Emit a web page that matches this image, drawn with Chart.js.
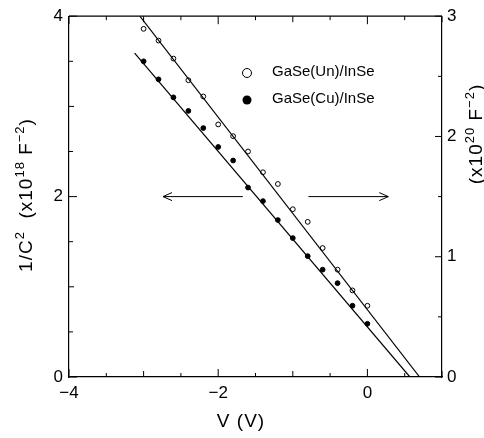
<!DOCTYPE html>
<html>
<head>
<meta charset="utf-8">
<script src="https://cdn.jsdelivr.net/npm/chart.js@4.4.1/dist/chart.umd.min.js"></script>
<style>
  html, body { margin: 0; padding: 0; background: #fff; }
  #grafico { display: block; }
</style>
</head>
<body>
<canvas id="grafico" width="484" height="438"></canvas>
<script>
// Datos
var voltages = [-3.0, -2.8, -2.6, -2.4, -2.2, -2.0, -1.8, -1.6, -1.4, -1.2, -1.0, -0.8, -0.6, -0.4, -0.2, 0.0];
var unValues = [3.86, 3.73, 3.53, 3.29, 3.11, 2.80, 2.67, 2.50, 2.27, 2.14, 1.86, 1.72, 1.43, 1.19, 0.96, 0.79];
var cuValues = [3.50, 3.30, 3.10, 2.95, 2.76, 2.55, 2.40, 2.10, 1.95, 1.74, 1.54, 1.34, 1.19, 1.04, 0.79, 0.59];

// Rectas de ajuste (extremos)
var unFitV = [-3.05, 0.70];
var unFitY = [4.0, 0.0];
var cuFitV = [-3.12, 0.57];
var cuFitY = [3.59, 0.0];

// Flechas (izquierda -> eje izquierdo, derecha -> eje derecho)
var leftArrowV = [-1.67, -2.74];
var rightArrowV = [-0.79, 0.28];
var arrowY = 2.0;

var xTickValues = [-4, -2, 0];
var legendLabels = ['GaSe(Un)/InSe', 'GaSe(Cu)/InSe'];

var FONT = '"Liberation Sans", Arial, Helvetica, sans-serif';

function toPoints(xs, ys) {
    return xs.map(function(x, i) { return { x: x, y: ys[i] }; });
}

function minusSign(v) {
    return String(v).replace('-', '\u2212');
}

// Texto con superíndices, centrado en (x, y) y rotado
function drawRich(ctx, parts, x, y, rot) {
    var main = '19px ' + FONT;
    var sup = '13px ' + FONT;
    ctx.save();
    ctx.letterSpacing = '1px';
    var total = 0;
    parts.forEach(function(p) {
        ctx.font = p.sup ? sup : main;
        p.w = ctx.measureText(p.t).width;
        total += p.w;
    });
    ctx.translate(x, y);
    ctx.rotate(rot);
    ctx.fillStyle = '#000';
    ctx.textBaseline = 'alphabetic';
    ctx.textAlign = 'left';
    var cx = -total / 2;
    parts.forEach(function(p) {
        ctx.font = p.sup ? sup : main;
        ctx.fillText(p.t, cx, p.sup ? -1 : 7);
        cx += p.w;
    });
    ctx.restore();
}

function drawArrow(ctx, x1, x2, y) {
    var dir = x2 > x1 ? 1 : -1;
    ctx.beginPath();
    ctx.moveTo(x1, y);
    ctx.lineTo(x2, y);
    ctx.moveTo(x2 - dir * 9, y - 4);
    ctx.lineTo(x2, y);
    ctx.lineTo(x2 - dir * 9, y + 4);
    ctx.stroke();
}

var decoPlugin = {
    id: 'deco',
    afterDraw: function(chart) {
        var ctx = chart.ctx;
        var area = chart.chartArea;
        var sx = chart.scales.x, sy = chart.scales.y, sy2 = chart.scales.y2;
        ctx.save();
        ctx.strokeStyle = '#000';
        ctx.lineWidth = 1.2;

        // marco superior
        ctx.beginPath();
        ctx.moveTo(area.left, area.top);
        ctx.lineTo(area.right, area.top);
        ctx.stroke();

        // marcas hacia dentro
        ctx.lineWidth = 1;
        ctx.beginPath();
        for (var v = sx.min; v <= sx.max + 1e-9; v += 0.5) {
            var px = sx.getPixelForValue(v);
            var len = (Math.abs(v % 2) < 1e-6) ? 8 : (Math.abs(v % 1) < 1e-6 ? 6 : 4);
            ctx.moveTo(px, area.bottom);
            ctx.lineTo(px, area.bottom - len);
            ctx.moveTo(px, area.top);
            ctx.lineTo(px, area.top + len);
        }
        for (var w = sy.min; w <= sy.max + 1e-9; w += 0.5) {
            var py = sy.getPixelForValue(w);
            var l2 = (Math.abs(w % 2) < 1e-6) ? 8 : (Math.abs(w % 1) < 1e-6 ? 5 : 4);
            ctx.moveTo(area.left, py);
            ctx.lineTo(area.left + l2, py);
        }
        for (var z = sy2.min; z <= sy2.max + 1e-9; z += 0.5) {
            var py2 = sy2.getPixelForValue(z);
            var l3 = (Math.abs(z % 1) < 1e-6) ? 7 : 4;
            ctx.moveTo(area.right, py2);
            ctx.lineTo(area.right - l3, py2);
        }
        ctx.stroke();

        // flechas
        var ay = sy.getPixelForValue(arrowY);
        drawArrow(ctx, sx.getPixelForValue(leftArrowV[0]), sx.getPixelForValue(leftArrowV[1]), ay);
        drawArrow(ctx, sx.getPixelForValue(rightArrowV[0]), sx.getPixelForValue(rightArrowV[1]), ay);

        // leyenda
        var lx = 247, ly = [73, 100];
        ctx.font = '15px ' + FONT;
        ctx.textBaseline = 'middle';
        ctx.fillStyle = '#000';
        legendLabels.forEach(function(label, i) {
            ctx.beginPath();
            ctx.arc(lx, ly[i], 4.5, 0, Math.PI * 2);
            if (i === 0) {
                ctx.fillStyle = '#fff';
                ctx.fill();
                ctx.stroke();
            } else {
                ctx.fillStyle = '#000';
                ctx.fill();
            }
            ctx.fillStyle = '#000';
            ctx.fillText(label, 272, ly[i] - 1);
        });

        // títulos de ejes
        drawRich(ctx, [{ t: '1/C' }, { t: '2', sup: true }, { t: '  (x10' }, { t: '18', sup: true }, { t: ' F' }, { t: '\u22122', sup: true }, { t: ')' }], 25, 195, -Math.PI / 2);
        drawRich(ctx, [{ t: '(x10' }, { t: '20', sup: true }, { t: ' F' }, { t: '\u22122', sup: true }, { t: ')' }], 475, 134, -Math.PI / 2);
        drawRich(ctx, [{ t: 'V (V)' }], 241, 420, 0);
        ctx.restore();
    }
};

var tickFont = { family: FONT, size: 17 };
var borderOpts = { display: true, color: '#000', width: 1.2 };

new Chart(document.getElementById('grafico').getContext('2d'), {
    type: 'scatter',
    data: {
        datasets: [{
            label: 'ajuste Un',
            data: toPoints(unFitV, unFitY),
            showLine: true,
            borderColor: '#000',
            borderWidth: 1.2,
            pointRadius: 0,
            yAxisID: 'y'
        }, {
            label: 'ajuste Cu',
            data: toPoints(cuFitV, cuFitY),
            showLine: true,
            borderColor: '#000',
            borderWidth: 1.2,
            pointRadius: 0,
            yAxisID: 'y'
        }, {
            label: legendLabels[0],
            data: toPoints(voltages, unValues),
            backgroundColor: '#fff',
            borderColor: '#000',
            borderWidth: 1,
            pointRadius: 2.4,
            yAxisID: 'y'
        }, {
            label: legendLabels[1],
            data: toPoints(voltages, cuValues),
            backgroundColor: '#000',
            borderColor: '#000',
            borderWidth: 1,
            pointRadius: 2.4,
            yAxisID: 'y'
        }]
    },
    options: {
        responsive: false,
        animation: false,
        devicePixelRatio: 1,
        layout: { padding: { top: 15, left: 0, right: 0, bottom: 0 } },
        plugins: {
            legend: { display: false },
            tooltip: { enabled: false }
        },
        scales: {
            x: {
                type: 'linear',
                min: -4,
                max: 1,
                grid: { display: false, drawTicks: false },
                border: borderOpts,
                afterBuildTicks: function(scale) {
                    scale.ticks = xTickValues.map(function(v) { return { value: v }; });
                },
                afterFit: function(scale) { scale.height = 61; },
                ticks: {
                    color: '#000',
                    font: tickFont,
                    padding: 6,
                    maxRotation: 0,
                    callback: function(v) { return minusSign(v); }
                }
            },
            y: {
                position: 'left',
                min: 0,
                max: 4,
                grid: { display: false, drawTicks: false },
                border: borderOpts,
                afterFit: function(scale) { scale.width = 69; },
                ticks: { color: '#000', font: tickFont, stepSize: 2, padding: 6 }
            },
            y2: {
                position: 'right',
                min: 0,
                max: 3,
                grid: { display: false, drawTicks: false },
                border: borderOpts,
                afterFit: function(scale) { scale.width = 42; },
                ticks: { color: '#000', font: tickFont, stepSize: 1, padding: 5 }
            }
        }
    },
    plugins: [decoPlugin]
});
</script>
</body>
</html>
